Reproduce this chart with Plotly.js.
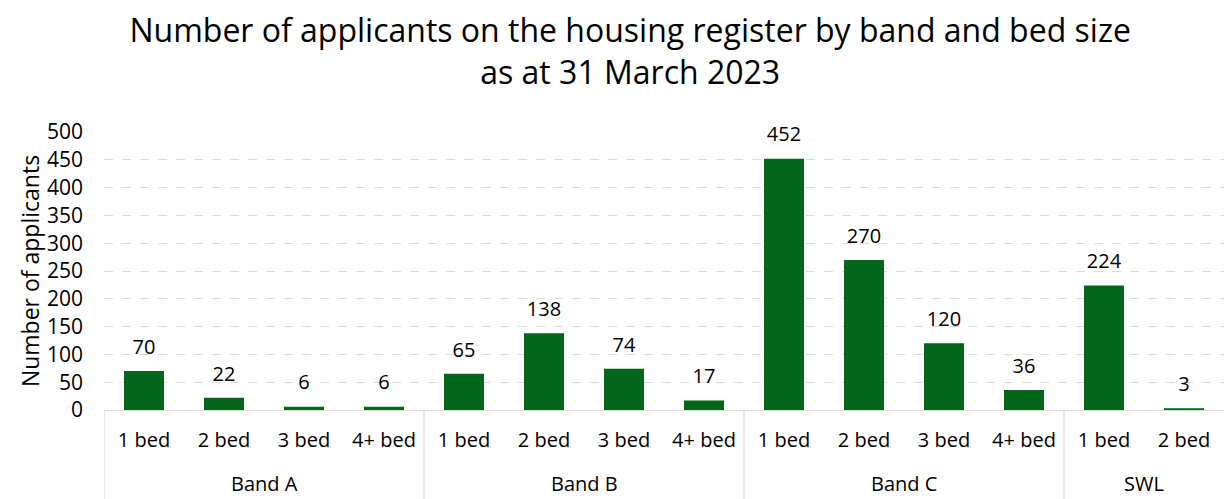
<!DOCTYPE html>
<html>
<head>
<meta charset="utf-8">
<script src="https://cdn.plot.ly/plotly-3.0.1.min.js"></script>
<style>html,body{margin:0;padding:0;background:#fff;}#chart{width:1226px;height:499px;}</style>
</head>
<body>
<div id="chart"></div>
<script>
const bands = ["Band A","Band A","Band A","Band A","Band B","Band B","Band B","Band B","Band C","Band C","Band C","Band C","SWL","SWL"];
const bedSizes = ["1 bed","2 bed","3 bed","4+ bed","1 bed","2 bed","3 bed","4+ bed","1 bed","2 bed","3 bed","4+ bed","1 bed","2 bed"];
const applicants = [70,22,6,6,65,138,74,17,452,270,120,36,224,3];
const yTicks = [0,50,100,150,200,250,300,350,400,450,500];

const FONT = "Open Sans, Noto Sans, sans-serif";
const idx = bedSizes.map((_, i) => i);

// group spans derived from the band list
const groups = [];
bands.forEach((b, i) => {
  const g = groups[groups.length - 1];
  if (g && g.name === b) g.end = i; else groups.push({name: b, start: i, end: i});
});

const bars = {
  type: "bar",
  x: idx,
  y: applicants,
  marker: {color: "#03661B"},
  customdata: bands.map((b, i) => b + " – " + bedSizes[i]),
  hovertemplate: "%{customdata}: %{y}<extra></extra>"
};

const labels = {
  type: "scatter",
  mode: "markers+text",
  x: idx,
  y: applicants,
  text: applicants.map(String),
  textposition: "top center",
  textfont: {family: FONT, size: 20, color: "#000"},
  marker: {size: 18, opacity: 0},
  cliponaxis: false,
  hoverinfo: "skip"
};

const PLOT_H = 499 - 132 - 89;
const annotations = groups.map(g => ({
  x: (g.start + g.end) / 2, xref: "x",
  y: -73 / PLOT_H, yref: "paper",
  text: g.name, showarrow: false,
  xanchor: "center", yanchor: "middle",
  font: {family: FONT, size: 20, color: "#000"}
}));

// dividers at the left edge of each group
const boundaries = groups.map(g => g.start - 0.5);
const shapes = boundaries.map(b => ({
  type: "line", xref: "x", yref: "paper",
  x0: b, x1: b, y0: 0, y1: -89 / PLOT_H,
  line: {color: "#d9d9d9", width: 1}
}));

const layout = {
  width: 1226, height: 499,
  margin: {l: 104, r: 2, t: 132, b: 89},
  paper_bgcolor: "#fff", plot_bgcolor: "#fff",
  bargap: 0.5,
  showlegend: false,
  font: {family: FONT, color: "#000"},
  title: {
    text: "Number of applicants on the housing register by band and bed size<br>as at 31 March 2023",
    font: {family: FONT, size: 32, color: "#000"},
    x: 0.514, xanchor: "center", xref: "container",
    y: 0.916, yanchor: "middle", yref: "container"
  },
  xaxis: {
    type: "linear",
    range: [-0.5, bedSizes.length - 0.5],
    tickvals: idx,
    ticktext: bedSizes,
    showline: true, linecolor: "#d9d9d9", linewidth: 1,
    tickfont: {family: FONT, size: 20, color: "#000"},
    ticklabelstandoff: 12,
    ticks: "", showgrid: false, zeroline: false
  },
  yaxis: {
    range: [0, 500],
    tickvals: yTicks,
    ticktext: yTicks.map(String),
    tickfont: {family: FONT, size: 21, color: "#000"},
    showgrid: true, gridcolor: "#d9d9d9", griddash: "dash", gridwidth: 1,
    zeroline: false,
    ticklabelstandoff: 20,
    title: {text: "Number of applicants", font: {family: FONT, size: 23, color: "#000"}, standoff: 0}
  },
  annotations: annotations,
  shapes: shapes
};

Plotly.newPlot("chart", [bars, labels], layout, {displayModeBar: false, staticPlot: true});
</script>
</body>
</html>
